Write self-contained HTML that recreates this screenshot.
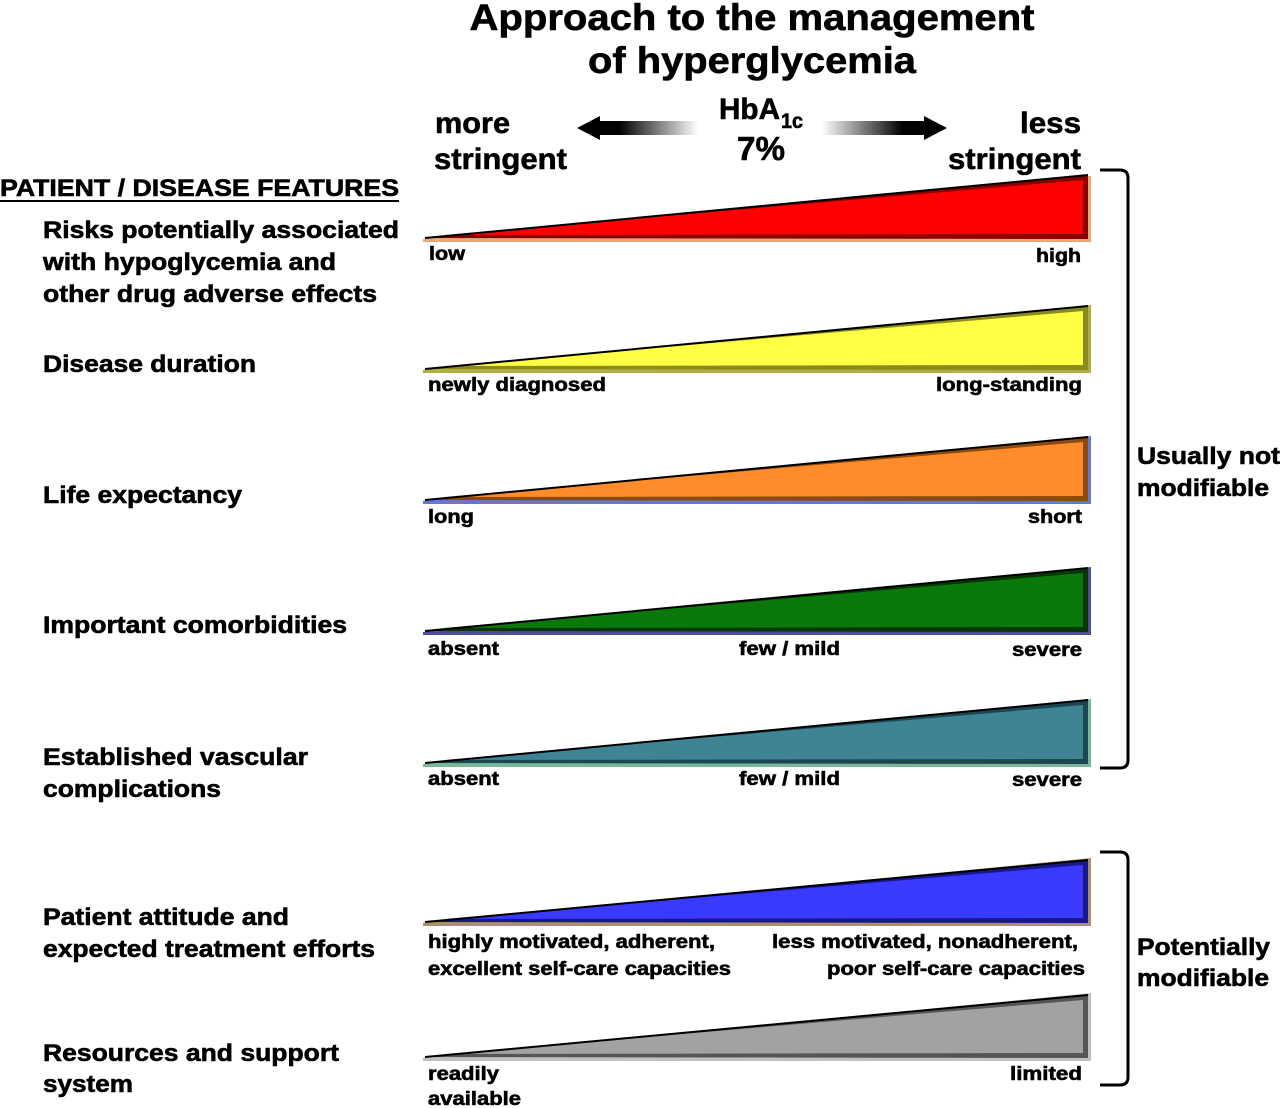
<!DOCTYPE html>
<html><head><meta charset="utf-8"><style>
html,body{margin:0;padding:0;background:#fff;}
svg{display:block;}
text{font-family:"Liberation Sans",Arial,sans-serif;font-weight:bold;fill:#000;stroke:#000;stroke-width:0.6px;}
</style></head><body>
<svg width="1280" height="1108" viewBox="0 0 1280 1108" xmlns="http://www.w3.org/2000/svg">
<defs>
<linearGradient id="gl" x1="0" x2="1" y1="0" y2="0">
<stop offset="0" stop-color="#000"/><stop offset="0.35" stop-color="#000"/><stop offset="1" stop-color="#fff"/>
</linearGradient>
<linearGradient id="gr" x1="0" x2="1" y1="0" y2="0">
<stop offset="0" stop-color="#fff"/><stop offset="0.65" stop-color="#000"/><stop offset="1" stop-color="#000"/>
</linearGradient>
</defs>

<!-- Title -->
<text x="752" y="30" font-size="37" text-anchor="middle" textLength="565" lengthAdjust="spacingAndGlyphs">Approach to the management</text>
<text x="752" y="73" font-size="37" text-anchor="middle" textLength="328" lengthAdjust="spacingAndGlyphs">of hyperglycemia</text>

<!-- stringent labels -->
<text x="435" y="133" font-size="30" textLength="75" lengthAdjust="spacingAndGlyphs">more</text>
<text x="434" y="169" font-size="30" textLength="133" lengthAdjust="spacingAndGlyphs">stringent</text>
<text x="1081" y="133" font-size="30" text-anchor="end" textLength="61" lengthAdjust="spacingAndGlyphs">less</text>
<text x="1081" y="169" font-size="30" text-anchor="end" textLength="133" lengthAdjust="spacingAndGlyphs">stringent</text>

<!-- HbA1c 7% -->
<text x="719" y="119" font-size="30" textLength="61" lengthAdjust="spacingAndGlyphs">HbA</text>
<text x="781" y="128" font-size="21" textLength="22" lengthAdjust="spacingAndGlyphs">1c</text>
<text x="761" y="160" font-size="33" text-anchor="middle" textLength="48" lengthAdjust="spacingAndGlyphs">7%</text>

<!-- arrows -->
<polygon points="577,128 600,116 600,121 698,121 698,135 600,135 600,140" fill="url(#gl)"/>
<polygon points="947,128 924,116 924,121 822,121 822,135 924,135 924,140" fill="url(#gr)"/>

<!-- Left header -->
<text x="0" y="196" font-size="24" textLength="399" lengthAdjust="spacingAndGlyphs">PATIENT / DISEASE FEATURES</text>
<rect x="0" y="200" width="399" height="2" fill="#000"/>

<!-- Left labels -->
<g font-size="24">
<text x="43" y="238" textLength="356" lengthAdjust="spacingAndGlyphs">Risks potentially associated</text>
<text x="43" y="270" textLength="293" lengthAdjust="spacingAndGlyphs">with hypoglycemia and</text>
<text x="43" y="302" textLength="334" lengthAdjust="spacingAndGlyphs">other drug adverse effects</text>
<text x="43" y="372" textLength="213" lengthAdjust="spacingAndGlyphs">Disease duration</text>
<text x="43" y="503" textLength="199" lengthAdjust="spacingAndGlyphs">Life expectancy</text>
<text x="43" y="633" textLength="304" lengthAdjust="spacingAndGlyphs">Important comorbidities</text>
<text x="43" y="765" textLength="265" lengthAdjust="spacingAndGlyphs">Established vascular</text>
<text x="43" y="797" textLength="178" lengthAdjust="spacingAndGlyphs">complications</text>
<text x="43" y="925" textLength="246" lengthAdjust="spacingAndGlyphs">Patient attitude and</text>
<text x="43" y="957" textLength="332" lengthAdjust="spacingAndGlyphs">expected treatment efforts</text>
<text x="43" y="1061" textLength="296" lengthAdjust="spacingAndGlyphs">Resources and support</text>
<text x="43" y="1092" textLength="90" lengthAdjust="spacingAndGlyphs">system</text>
</g>

<!-- Triangles -->
<g>
<polygon points="423,239 1091,176 1091,242 423,242" fill="#e8a878"/>
<polygon points="425,238 1088,175 1088,239" fill="#8a0000"/>
<polygon points="445,235 1083,180 1083,234" fill="#ff0000"/>
<line x1="425" y1="238" x2="1088" y2="175" stroke="#000" stroke-width="2"/>
</g>
<g>
<polygon points="423,370 1091,305 1091,373 423,373" fill="#b0b040"/>
<polygon points="425,369 1088,306 1088,370" fill="#8a8a20"/>
<polygon points="445,366 1083,311 1083,365" fill="#ffff44"/>
<line x1="425" y1="369" x2="1088" y2="306" stroke="#000" stroke-width="2"/>
</g>
<g>
<polygon points="423,501 1091,436 1091,504 423,504" fill="#6878c8"/>
<polygon points="425,500 1088,437 1088,501" fill="#8a4a10"/>
<polygon points="445,497 1083,442 1083,496" fill="#ff8c28"/>
<line x1="425" y1="500" x2="1088" y2="437" stroke="#000" stroke-width="2"/>
</g>
<g>
<polygon points="423,632 1091,567 1091,635 423,635" fill="#505098"/>
<polygon points="425,631 1088,568 1088,632" fill="#063806"/>
<polygon points="445,628 1083,573 1083,627" fill="#0b780b"/>
<line x1="425" y1="631" x2="1088" y2="568" stroke="#000" stroke-width="2"/>
</g>
<g>
<polygon points="423,764 1091,699 1091,767 423,767" fill="#78b898"/>
<polygon points="425,763 1088,700 1088,764" fill="#1c4652"/>
<polygon points="445,760 1083,705 1083,759" fill="#3f8494"/>
<line x1="425" y1="763" x2="1088" y2="700" stroke="#000" stroke-width="2"/>
</g>
<g>
<polygon points="423,923 1091,858 1091,926 423,926" fill="#a89070"/>
<polygon points="425,922 1088,860 1088,923" fill="#18188a"/>
<polygon points="445,919 1083,865 1083,918" fill="#3a3aff"/>
<line x1="425" y1="922" x2="1088" y2="860" stroke="#000" stroke-width="2"/>
</g>
<g>
<polygon points="423,1058 1091,993 1091,1061 423,1061" fill="#c0c0c0"/>
<polygon points="425,1057 1088,995 1088,1058" fill="#555"/>
<polygon points="445,1054 1083,1000 1083,1053" fill="#a2a2a2"/>
<line x1="425" y1="1057" x2="1088" y2="995" stroke="#000" stroke-width="2"/>
</g>

<!-- Triangle labels -->
<g font-size="19">
<text x="429" y="260" textLength="36" lengthAdjust="spacingAndGlyphs">low</text>
<text x="1081" y="262" text-anchor="end" textLength="45" lengthAdjust="spacingAndGlyphs">high</text>
<text x="428" y="391" textLength="178" lengthAdjust="spacingAndGlyphs">newly diagnosed</text>
<text x="1082" y="391" text-anchor="end" textLength="146" lengthAdjust="spacingAndGlyphs">long-standing</text>
<text x="428" y="523" textLength="46" lengthAdjust="spacingAndGlyphs">long</text>
<text x="1082" y="523" text-anchor="end" textLength="54" lengthAdjust="spacingAndGlyphs">short</text>
<text x="428" y="655" textLength="71" lengthAdjust="spacingAndGlyphs">absent</text>
<text x="739" y="655" textLength="101" lengthAdjust="spacingAndGlyphs">few / mild</text>
<text x="1082" y="656" text-anchor="end" textLength="70" lengthAdjust="spacingAndGlyphs">severe</text>
<text x="428" y="785" textLength="71" lengthAdjust="spacingAndGlyphs">absent</text>
<text x="739" y="785" textLength="101" lengthAdjust="spacingAndGlyphs">few / mild</text>
<text x="1082" y="786" text-anchor="end" textLength="70" lengthAdjust="spacingAndGlyphs">severe</text>
<text x="428" y="948" textLength="287" lengthAdjust="spacingAndGlyphs">highly motivated, adherent,</text>
<text x="428" y="975" textLength="303" lengthAdjust="spacingAndGlyphs">excellent self-care capacities</text>
<text x="1078" y="948" text-anchor="end" textLength="306" lengthAdjust="spacingAndGlyphs">less motivated, nonadherent,</text>
<text x="1085" y="975" text-anchor="end" textLength="258" lengthAdjust="spacingAndGlyphs">poor self-care capacities</text>
<text x="428" y="1080" textLength="71" lengthAdjust="spacingAndGlyphs">readily</text>
<text x="428" y="1105" textLength="93" lengthAdjust="spacingAndGlyphs">available</text>
<text x="1082" y="1080" text-anchor="end" textLength="72" lengthAdjust="spacingAndGlyphs">limited</text>
</g>

<!-- Brackets -->
<path d="M1100,170 H1120 Q1128,170 1128,178 V760 Q1128,768 1120,768 H1100" fill="none" stroke="#000" stroke-width="3"/>
<path d="M1100,852 H1120 Q1128,852 1128,860 V1077 Q1128,1085 1120,1085 H1100" fill="none" stroke="#000" stroke-width="3"/>

<!-- Right labels -->
<g font-size="24">
<text x="1137" y="464" textLength="143" lengthAdjust="spacingAndGlyphs">Usually not</text>
<text x="1137" y="496" textLength="132" lengthAdjust="spacingAndGlyphs">modifiable</text>
<text x="1137" y="955" textLength="133" lengthAdjust="spacingAndGlyphs">Potentially</text>
<text x="1137" y="986" textLength="132" lengthAdjust="spacingAndGlyphs">modifiable</text>
</g>
</svg>
</body></html>
